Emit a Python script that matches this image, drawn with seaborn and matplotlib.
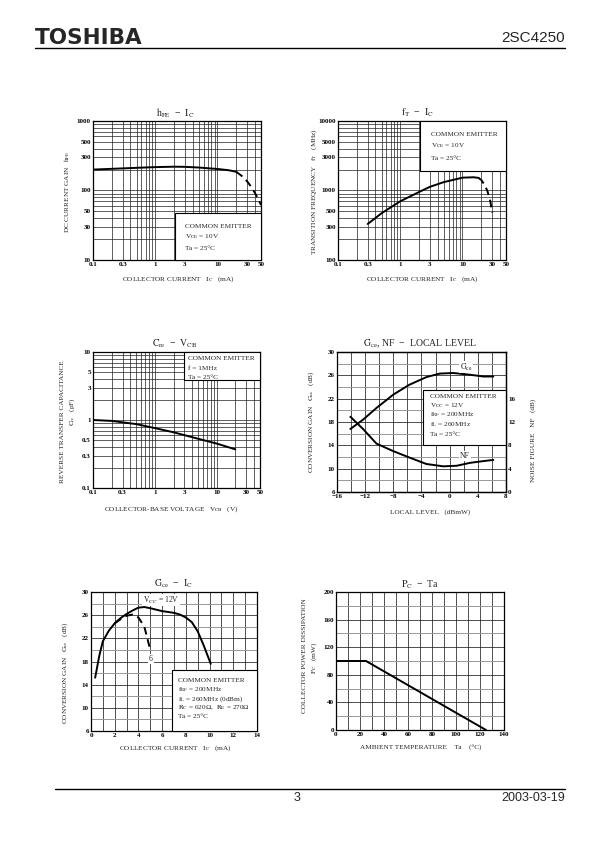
import numpy as np
import matplotlib
matplotlib.use('Agg')
import matplotlib.pyplot as plt
import seaborn as sns
from matplotlib.ticker import FixedLocator, LogLocator, NullFormatter, MultipleLocator, FixedFormatter
from matplotlib.patches import Rectangle

# ---------------- data ----------------
# hFE - IC
hfe_ic = [0.1, 0.2, 0.3, 0.5, 1, 2, 3, 5, 10, 15, 20]
hfe_val = [200, 205, 208, 212, 217, 220, 219, 214, 204, 196, 186]
hfe_ic_d = [20, 25, 30, 35, 40, 45, 50]
hfe_val_d = [186, 160, 135, 112, 92, 75, 62]
hfe_xticks = [0.1, 0.3, 1, 3, 10, 30, 50]
hfe_yticks = [10, 30, 50, 100, 300, 500, 1000]

# fT - IC
ft_ic = [0.3, 0.5, 1, 2, 3, 5, 10, 15, 18]
ft_val = [330, 470, 700, 950, 1130, 1320, 1530, 1550, 1520]
ft_ic_d = [18, 20, 22, 25, 28, 30]
ft_val_d = [1520, 1420, 1250, 1000, 700, 480]
ft_xticks = [0.1, 0.3, 1, 3, 10, 30, 50]
ft_yticks = [100, 300, 500, 1000, 3000, 5000, 10000]

# Cre - VCB
cre_v = [0.1, 0.2, 0.5, 1, 2, 5, 10, 20]
cre_c = [1.0, 0.97, 0.87, 0.76, 0.66, 0.53, 0.45, 0.37]
cre_xticks = [0.1, 0.3, 1, 3, 10, 30, 50]
cre_yticks = [0.1, 0.3, 0.5, 1, 3, 5, 10]

# Gce, NF - local level
ll_x = [-14.1, -12.3, -10.4, -8.0, -5.7, -3.3, -1.4, 0.5, 2.9, 4.8, 6.2]
gce_ll = [16.8, 18.4, 20.4, 22.7, 24.4, 25.7, 26.3, 26.4, 26.1, 25.8, 25.8]
nf_x = [-14.1, -12.3, -10.4, -8.0, -5.7, -3.3, -0.9, 1.0, 2.9, 4.8, 6.2]
nf_ll = [12.9, 10.8, 8.3, 7.0, 5.9, 4.8, 4.4, 4.5, 5.0, 5.3, 5.5]
ll_xticks = [-16, -12, -8, -4, 0, 4, 8]
ll_xlabels = ['−16', '−12', '−8', '−4', '0', '4', '8']
gain_yticks = [6, 10, 14, 18, 22, 26, 30]
nf_yticks = [0, 4, 8, 12, 16]

# Gce - IC
gic_12 = [0.35, 0.7, 1.0, 1.5, 2.0, 2.5, 3.0, 3.5, 4.0, 4.5, 5.0, 6.0, 7.0, 7.5, 8.0, 8.5, 9.0, 9.5, 10.1]
gce_12 = [15.2, 19.0, 21.5, 23.3, 24.6, 25.5, 26.2, 26.8, 27.3, 27.4, 27.2, 26.7, 26.4, 26.1, 25.6, 24.8, 23.2, 20.8, 17.6]
gic_6 = [2.0, 2.5, 3.0, 3.5, 4.0, 4.5, 5.0]
gce_6 = [24.6, 25.3, 25.9, 26.1, 25.6, 24.0, 20.0]

# PC - Ta
pc_ta = [0, 25, 125]
pc_val = [100, 100, 0]

# ---------------- style ----------------
sns.set_style('white')
plt.rcParams['font.family'] = ['Liberation Serif', 'DejaVu Serif']
plt.rcParams['mathtext.fontset'] = 'stix'

W, H = 595, 842
fig = plt.figure(figsize=(W / 100, H / 100), dpi=100)
fig.patch.set_facecolor('white')

TICK_FS = 5.0
LAB_FS = 5.2
TITLE_FS = 7.0
BOX_FS = 5.2
GRID_C = '0.12'
DASH = (0, (4, 2.5))


def add_ax(x0, y0, x1, y1):
    return fig.add_axes([x0 / W, 1 - y1 / H, (x1 - x0) / W, (y1 - y0) / H])


def ftext(x, y, s, **kw):
    kw.setdefault('ha', 'center')
    kw.setdefault('va', 'center')
    return fig.text(x / W, 1 - y / H, s, **kw)


def style(ax):
    for s in ax.spines.values():
        s.set_visible(True)
        s.set_color('black')
        s.set_linewidth(0.9)
    ax.tick_params(which='both', length=0, labelsize=TICK_FS, pad=1.5, colors='black')
    for lab in ax.get_xticklabels() + ax.get_yticklabels():
        lab.set_fontweight('bold')
    ax.set_axisbelow(True)
    ax.set_xlabel('')
    ax.set_ylabel('')


def log_axis(ax, which, ticks, labels):
    a = ax.xaxis if which == 'x' else ax.yaxis
    a.set_major_locator(FixedLocator(ticks))
    a.set_major_formatter(FixedFormatter(labels))
    a.set_minor_locator(LogLocator(base=10, subs=np.arange(1, 10), numticks=50))
    a.set_minor_formatter(NullFormatter())


def box(ax, x0, y0, x1, y1):
    ax.add_patch(Rectangle((x0, y0), x1 - x0, y1 - y0, transform=ax.transAxes,
                           facecolor='white', edgecolor='black', lw=0.8, zorder=3,
                           clip_on=False))


def fmt(v):
    return ('%g' % v)

# ---------------- header / footer ----------------
ftext(35, 38, 'TOSHIBA', ha='left', family='DejaVu Sans', weight='heavy', fontsize=15.5)
ftext(565, 38, '2SC4250', ha='right', family='Liberation Sans', fontsize=11)
fig.add_artist(plt.Line2D([35 / W, 565 / W], [1 - 47.5 / H, 1 - 47.5 / H], color='black', lw=1.0))
fig.add_artist(plt.Line2D([55 / W, 565 / W], [1 - 789 / H, 1 - 789 / H], color='black', lw=1.0))
ftext(297, 798, '3', family='Liberation Sans', fontsize=9)
ftext(565, 798, '2003-03-19', ha='right', family='Liberation Sans', fontsize=9)

# ---------------- chart 1: hFE - IC ----------------
ax1 = add_ax(93, 121, 261, 260)
ax1.set_xscale('log'); ax1.set_yscale('log')
ax1.set_xlim(0.1, 50); ax1.set_ylim(10, 1000)
sns.lineplot(x=hfe_ic, y=hfe_val, ax=ax1, color='black', lw=1.4, zorder=4)
sns.lineplot(x=hfe_ic_d, y=hfe_val_d, ax=ax1, color='black', lw=1.4, zorder=4, linestyle=DASH)
log_axis(ax1, 'x', hfe_xticks, [fmt(v) for v in hfe_xticks])
log_axis(ax1, 'y', hfe_yticks, [fmt(v) for v in hfe_yticks])
ax1.grid(which='both', color=GRID_C, lw=0.5)
style(ax1)
box(ax1, 0.488, 0.0, 1.0, 0.338)
ftext(185, 226, 'COMMON EMITTER', ha='left', fontsize=BOX_FS)
ftext(185, 237, r'$\mathrm{V_{CE}}$ = 10V', ha='left', fontsize=BOX_FS)
ftext(185, 248, 'Ta = 25°C', ha='left', fontsize=BOX_FS)
ftext(175, 113, r'$\mathrm{h_{FE}}$  −  $\mathrm{I_C}$', fontsize=TITLE_FS)
ftext(178, 279, r'COLLECTOR CURRENT   $\mathrm{I_C}$   (mA)', fontsize=LAB_FS)
ftext(67, 192, r'DC CURRENT GAIN   $\mathrm{h_{FE}}$', fontsize=LAB_FS, rotation=90)

# ---------------- chart 2: fT - IC ----------------
ax2 = add_ax(338, 121, 506, 260)
ax2.set_xscale('log'); ax2.set_yscale('log')
ax2.set_xlim(0.1, 50); ax2.set_ylim(100, 10000)
sns.lineplot(x=ft_ic, y=ft_val, ax=ax2, color='black', lw=1.4, zorder=4)
sns.lineplot(x=ft_ic_d, y=ft_val_d, ax=ax2, color='black', lw=1.4, zorder=4, linestyle=DASH)
log_axis(ax2, 'x', ft_xticks, [fmt(v) for v in ft_xticks])
log_axis(ax2, 'y', ft_yticks, [fmt(v) for v in ft_yticks])
ax2.grid(which='both', color=GRID_C, lw=0.5)
style(ax2)
box(ax2, 0.488, 0.64, 1.0, 1.0)
ftext(431, 134, 'COMMON EMITTER', ha='left', fontsize=BOX_FS)
ftext(431, 146, r'$\mathrm{V_{CE}}$ = 10V', ha='left', fontsize=BOX_FS)
ftext(431, 158, 'Ta = 25°C', ha='left', fontsize=BOX_FS)
ftext(418, 113, r'$\mathrm{f_T}$  −  $\mathrm{I_C}$', fontsize=TITLE_FS)
ftext(422, 279, r'COLLECTOR CURRENT   $\mathrm{I_C}$   (mA)', fontsize=LAB_FS)
ftext(314, 192, r'TRANSITION FREQUENCY   $\mathrm{f_T}$   (MHz)', fontsize=LAB_FS, rotation=90)

# ---------------- chart 3: Cre - VCB ----------------
ax3 = add_ax(93, 352, 260, 488)
ax3.set_xscale('log'); ax3.set_yscale('log')
ax3.set_xlim(0.1, 50); ax3.set_ylim(0.1, 10)
sns.lineplot(x=cre_v, y=cre_c, ax=ax3, color='black', lw=1.4, zorder=4)
log_axis(ax3, 'x', cre_xticks, [fmt(v) for v in cre_xticks])
log_axis(ax3, 'y', cre_yticks, [fmt(v) for v in cre_yticks])
ax3.grid(which='both', color=GRID_C, lw=0.5)
style(ax3)
box(ax3, 0.545, 0.794, 1.0, 1.0)
ftext(188, 359, 'COMMON EMITTER', ha='left', fontsize=BOX_FS)
ftext(188, 368.5, 'f = 1MHz', ha='left', fontsize=BOX_FS)
ftext(188, 378, 'Ta = 25°C', ha='left', fontsize=BOX_FS)
ftext(175, 344, r'$\mathrm{C_{re}}$  −  $\mathrm{V_{CB}}$', fontsize=TITLE_FS)
ftext(171, 509, r'COLLECTOR-BASE VOLTAGE   $\mathrm{V_{CB}}$   (V)', fontsize=LAB_FS)
ftext(63, 422, 'REVERSE TRANSFER CAPACITANCE', fontsize=LAB_FS, rotation=90)
ftext(72, 412, r'$\mathrm{C_{re}}$   (pF)', fontsize=LAB_FS, rotation=90)

# ---------------- chart 4: Gce, NF - local level ----------------
ax4 = add_ax(337, 352, 506, 492)
ax4.set_xlim(-16, 8); ax4.set_ylim(6, 30)
sns.lineplot(x=ll_x, y=gce_ll, ax=ax4, color='black', lw=1.4, zorder=4)
ax4.xaxis.set_major_locator(FixedLocator(ll_xticks))
ax4.xaxis.set_major_formatter(FixedFormatter(ll_xlabels))
ax4.xaxis.set_minor_locator(MultipleLocator(2))
ax4.yaxis.set_major_locator(FixedLocator(gain_yticks))
ax4.yaxis.set_major_formatter(FixedFormatter([fmt(v) for v in gain_yticks]))
ax4.yaxis.set_minor_locator(MultipleLocator(2))
ax4.grid(which='major', color=GRID_C, lw=0.55)
ax4.grid(which='minor', axis='x', color=GRID_C, lw=0.55)
ax4.grid(which='minor', axis='y', color='0.6', lw=0.7)
style(ax4)
box(ax4, 0.509, 0.336, 1.0, 0.729)
ax4b = ax4.twinx()
ax4b.set_ylim(0, 24)
sns.lineplot(x=nf_x, y=nf_ll, ax=ax4b, color='black', lw=1.4, zorder=4)
ax4b.yaxis.set_major_locator(FixedLocator(nf_yticks))
ax4b.yaxis.set_major_formatter(FixedFormatter([fmt(v) for v in nf_yticks]))
ax4b.grid(False)
style(ax4b)
ax4b.spines['left'].set_visible(False)
ftext(430, 396, 'COMMON EMITTER', ha='left', fontsize=BOX_FS)
ftext(430, 405.5, r'$\mathrm{V_{CC}}$ = 12V', ha='left', fontsize=BOX_FS)
ftext(430, 415, r'$\mathrm{f_{RF}}$ = 200MHz', ha='left', fontsize=BOX_FS)
ftext(430, 424.5, r'$\mathrm{f_L}$ = 260MHz', ha='left', fontsize=BOX_FS)
ftext(430, 434, 'Ta = 25°C', ha='left', fontsize=BOX_FS)
ftext(466, 367, r'$\mathrm{G_{ce}}$', fontsize=BOX_FS + 0.5,
      bbox=dict(facecolor='white', edgecolor='none', pad=0.6))
ftext(465, 456, 'NF', fontsize=BOX_FS + 0.3,
      bbox=dict(facecolor='white', edgecolor='none', pad=0.6))
ftext(420, 344, r'$\mathrm{G_{ce}}$, NF  −  LOCAL LEVEL', fontsize=TITLE_FS)
ftext(430, 512, 'LOCAL LEVEL   (dBmW)', fontsize=LAB_FS)
ftext(311, 422, r'CONVERSION GAIN   $\mathrm{G_{ce}}$   (dB)', fontsize=LAB_FS, rotation=90)
ftext(533, 440, 'NOISE FIGURE   NF   (dB)', fontsize=LAB_FS, rotation=90)

# ---------------- chart 5: Gce - IC ----------------
ax5 = add_ax(91, 592, 257, 731)
ax5.set_xlim(0, 14); ax5.set_ylim(6, 30)
sns.lineplot(x=gic_12, y=gce_12, ax=ax5, color='black', lw=1.4, zorder=4)
sns.lineplot(x=gic_6, y=gce_6, ax=ax5, color='black', lw=1.4, zorder=4, linestyle=DASH)
ax5.xaxis.set_major_locator(MultipleLocator(2))
ax5.xaxis.set_minor_locator(MultipleLocator(1))
ax5.yaxis.set_major_locator(FixedLocator(gain_yticks))
ax5.yaxis.set_major_formatter(FixedFormatter([fmt(v) for v in gain_yticks]))
ax5.yaxis.set_minor_locator(MultipleLocator(2))
ax5.grid(which='major', color=GRID_C, lw=0.55)
ax5.grid(which='minor', axis='x', color=GRID_C, lw=0.55)
ax5.grid(which='minor', axis='y', color='0.6', lw=0.7)
style(ax5)
box(ax5, 0.488, 0.0, 1.0, 0.439)
ftext(178, 681, 'COMMON EMITTER', ha='left', fontsize=BOX_FS)
ftext(178, 690, r'$\mathrm{f_{RF}}$ = 200MHz', ha='left', fontsize=BOX_FS)
ftext(178, 699, r'$\mathrm{f_L}$ = 260MHz (0dBm)', ha='left', fontsize=BOX_FS)
ftext(178, 708, r'$\mathrm{R_C}$ = 620Ω,  $\mathrm{R_E}$ = 270Ω', ha='left', fontsize=BOX_FS)
ftext(178, 717, 'Ta = 25°C', ha='left', fontsize=BOX_FS)
ftext(161, 600, r'$\mathrm{V_{CC}}$ = 12V', fontsize=BOX_FS + 0.3,
      bbox=dict(facecolor='white', edgecolor='none', pad=0.5))
ftext(151, 659, '6', fontsize=BOX_FS + 0.3,
      bbox=dict(facecolor='white', edgecolor='none', pad=0.5))
ftext(173, 584, r'$\mathrm{G_{ce}}$  −  $\mathrm{I_C}$', fontsize=TITLE_FS)
ftext(175, 748, r'COLLECTOR CURRENT   $\mathrm{I_C}$   (mA)', fontsize=LAB_FS)
ftext(65, 673, r'CONVERSION GAIN   $\mathrm{G_{ce}}$   (dB)', fontsize=LAB_FS, rotation=90)

# ---------------- chart 6: PC - Ta ----------------
ax6 = add_ax(336, 592, 504, 730)
ax6.set_xlim(0, 140); ax6.set_ylim(0, 200)
sns.lineplot(x=pc_ta, y=pc_val, ax=ax6, color='black', lw=1.4, zorder=4)
ax6.xaxis.set_major_locator(MultipleLocator(20))
ax6.xaxis.set_minor_locator(MultipleLocator(10))
ax6.yaxis.set_major_locator(MultipleLocator(40))
ax6.yaxis.set_minor_locator(MultipleLocator(20))
ax6.grid(which='major', color=GRID_C, lw=0.55)
ax6.grid(which='minor', axis='x', color=GRID_C, lw=0.55)
ax6.grid(which='minor', axis='y', color='0.6', lw=0.7)
style(ax6)
ftext(420, 585, r'$\mathrm{P_C}$  −  Ta', fontsize=TITLE_FS)
ftext(421, 748, 'AMBIENT TEMPERATURE    Ta    (°C)', fontsize=LAB_FS)
ftext(305, 656, 'COLLECTOR POWER DISSIPATION', fontsize=LAB_FS, rotation=90)
ftext(314, 658, r'$\mathrm{P_C}$   (mW)', fontsize=LAB_FS, rotation=90)

for ax in [ax1, ax2, ax3, ax4, ax4b, ax5, ax6]:
    if ax.get_legend() is not None:
        ax.get_legend().remove()

fig.savefig('out.png', dpi=100, facecolor='white')
